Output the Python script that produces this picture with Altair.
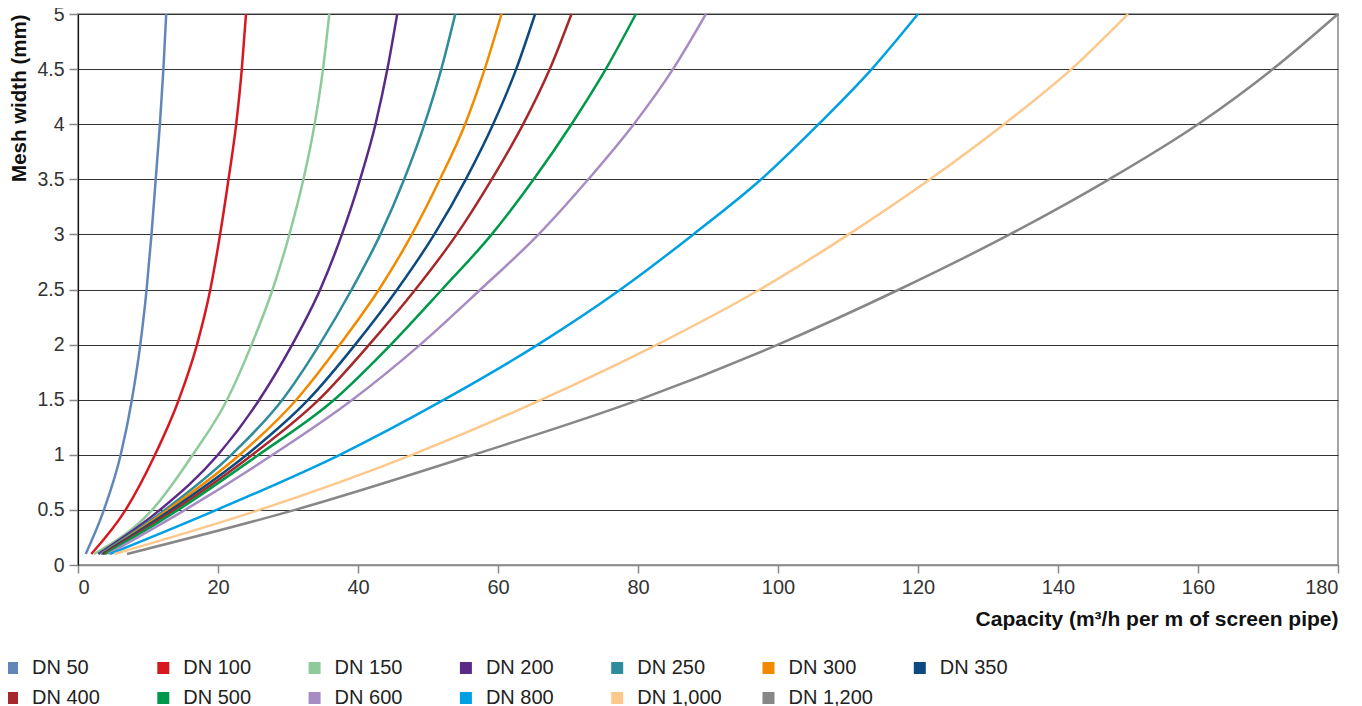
import altair as alt
import pandas as pd

mesh = [0.1, 0.5, 1.0, 1.5, 2.0, 2.5, 3.0, 3.5, 4.0, 4.5, 5.0]

# Capacity (m3/h per m of screen pipe) for each pipe size at the mesh levels above
dn50 = [1.1, 3.7, 6.1, 7.7, 8.9, 9.8, 10.5, 11.1, 11.7, 12.2, 12.6]
dn100 = [1.9, 6.8, 11.0, 14.4, 17.0, 18.9, 20.3, 21.5, 22.6, 23.4, 24.0]
dn150 = [2.3, 10.6, 16.4, 21.3, 24.8, 27.8, 30.2, 32.2, 33.8, 35.0, 35.9]
dn200 = [2.9, 11.7, 20.0, 25.9, 30.6, 34.6, 37.7, 40.3, 42.5, 44.2, 45.6]
dn250 = [3.2, 12.4, 21.9, 29.2, 34.5, 39.1, 43.2, 46.6, 49.5, 51.9, 53.9]
dn300 = [3.4, 12.8, 23.1, 31.2, 37.4, 43.0, 47.7, 51.7, 55.3, 58.1, 60.5]
dn350 = [3.5, 13.3, 24.1, 32.9, 39.6, 45.6, 50.9, 55.4, 59.3, 62.6, 65.3]
dn400 = [3.7, 13.8, 24.9, 34.4, 41.6, 48.2, 54.1, 59.1, 63.6, 67.4, 70.5]
dn500 = [3.9, 14.3, 25.8, 36.6, 44.7, 52.0, 59.1, 65.1, 70.5, 75.4, 79.7]
dn600 = [4.3, 15.3, 27.8, 39.2, 48.9, 57.5, 65.8, 72.9, 79.4, 85.0, 89.7]
dn800 = [4.6, 19.8, 37.4, 52.3, 65.7, 77.5, 87.9, 97.6, 105.8, 113.4, 120.0]
dn1000 = [5.2, 25.9, 47.7, 66.2, 82.7, 97.4, 110.1, 121.7, 132.3, 141.9, 150.0]
dn1200 = [7.0, 31.0, 56.5, 80.2, 100.0, 117.3, 133.1, 147.3, 160.0, 170.7, 180.0]

series_names = ["DN 50", "DN 100", "DN 150", "DN 200", "DN 250", "DN 300", "DN 350",
                "DN 400", "DN 500", "DN 600", "DN 800", "DN 1,000", "DN 1,200"]
series_values = [dn50, dn100, dn150, dn200, dn250, dn300, dn350,
                 dn400, dn500, dn600, dn800, dn1000, dn1200]
series_colors = ["#6187b8", "#d7191f", "#8fca9b", "#5b2a86", "#2e8c9c", "#f28a00", "#0c4a80",
                 "#a6282a", "#00984a", "#a78cc4", "#00a0e3", "#fcc88c", "#878787"]

x_ticks = [0, 20, 40, 60, 80, 100, 120, 140, 160, 180]
y_ticks = [0, 0.5, 1, 1.5, 2, 2.5, 3, 3.5, 4, 4.5, 5]

rows = []
for name, vals in zip(series_names, series_values):
    for i, (xv, yv) in enumerate(zip(vals, mesh)):
        rows.append({"series": name, "capacity": xv, "mesh": yv, "idx": i})
df = pd.DataFrame(rows)

FONT = "Liberation Sans"

chart = alt.Chart(df).mark_line(strokeWidth=2.5, interpolate="monotone").encode(
    x=alt.X("capacity:Q",
            scale=alt.Scale(domain=[0, 180], nice=False),
            axis=alt.Axis(values=x_ticks, grid=False, tickSize=8, tickColor="#888888",
                          tickWidth=1.5, domainColor="#888888", domainWidth=1.5,
                          labelFontSize=20, labelColor="#333333", labelPadding=4,
                          title="Capacity (m³/h per m of screen pipe)",
                          titleFontSize=21, titleFontWeight="bold", titleColor="#111111",
                          titleAnchor="end", titlePadding=11)),
    y=alt.Y("mesh:Q",
            scale=alt.Scale(domain=[0, 5], nice=False),
            axis=alt.Axis(values=y_ticks, format="~g", grid=True, gridColor="#333333",
                          gridWidth=1, tickSize=9, tickColor="#888888", tickWidth=1.5,
                          domainColor="#111111", domainWidth=1.2,
                          labelFontSize=19.5, labelColor="#333333", labelPadding=5,
                          title="Mesh width (mm)", titleFontSize=20.5,
                          titleFontWeight="bold", titleColor="#111111",
                          titleAnchor="end", titlePadding=7)),
    color=alt.Color("series:N",
                    scale=alt.Scale(domain=series_names, range=series_colors),
                    sort=series_names,
                    legend=alt.Legend(title=None, orient="none", legendX=-76, legendY=644,
                                      direction="horizontal", columns=7, gridAlign="all",
                                      symbolType="square", symbolSize=36,
                                      symbolStrokeWidth=6, symbolOpacity=1,
                                      labelFontSize=20, labelColor="#222222",
                                      labelOffset=10, columnPadding=31.3, rowPadding=0)),
    order=alt.Order("idx:Q"),
).properties(
    width=1260,
    height=551,
    autosize=alt.AutoSizeParams(type="none"),
    padding={"left": 70, "top": 6, "right": 16, "bottom": 145},
).configure(
    font=FONT,
).configure_view(
    stroke="#888888",
    strokeWidth=1.5,
)

chart.save("out.html", embed_options={"renderer": "svg", "actions": False})
